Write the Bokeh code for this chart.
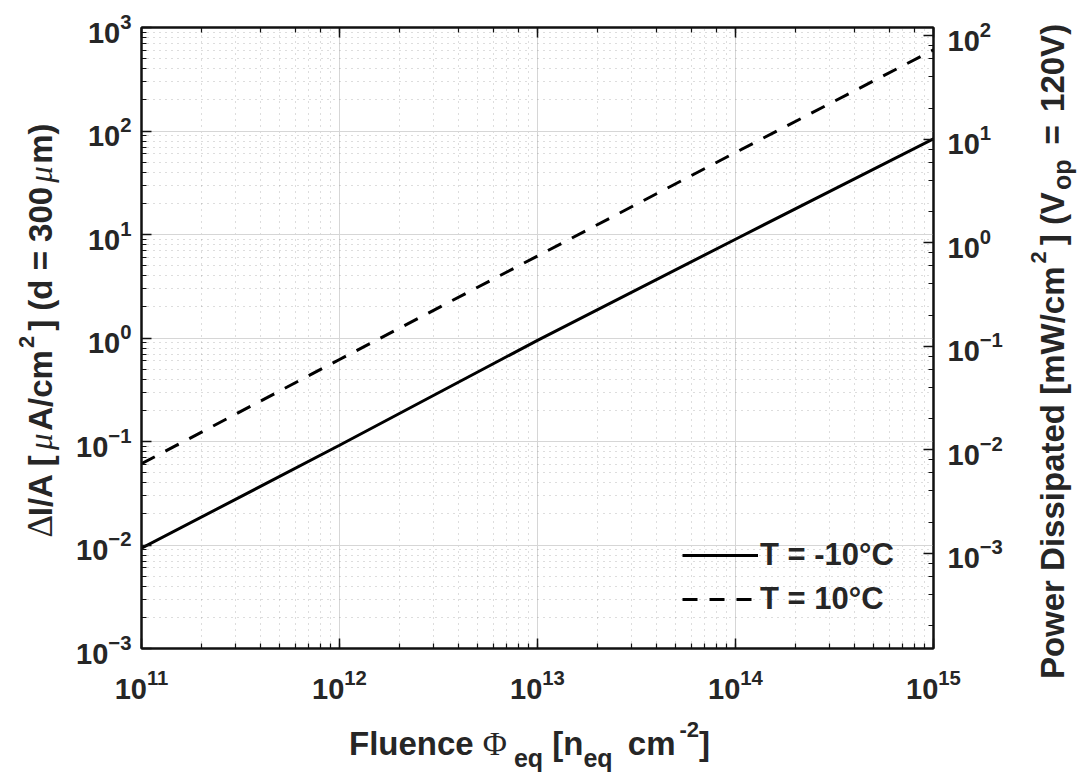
import math
from bokeh.plotting import figure
from bokeh.models import LogAxis, Range1d, LogScale, Label, Legend, LegendItem, GridBox
from bokeh.embed import file_html
from bokeh.resources import INLINE

# ---------------- data ----------------
fluence = [1e11, 1e12, 1e13, 1e14, 1e15]            # n_eq cm^-2
current_minus10 = [0.0093, 0.092, 0.95, 9.0, 84.0]   # uA/cm^2, T = -10 C
current_plus10 = [0.061, 0.62, 6.2, 62.0, 608.0]     # uA/cm^2, T = 10 C
series_labels = ["T = -10°C", "T = 10°C"]
x_limits = [1e11, 1e15]
y_limits = [1e-3, 1e3]
v_op = 120.0                                          # V
power_limits = [y_limits[0] * v_op / 1000.0, y_limits[1] * v_op / 1000.0]  # mW/cm^2

# ---------------- layout constants ----------------
W, H = 1077, 772
FL, FT, FW, FH = 141, 27, 792, 621
FB = FT + FH
TXT = "#262626"
SANS = "Liberation Sans"
SERIF = "Liberation Serif"

p = figure(x_axis_type="log", y_axis_type="log",
           x_range=Range1d(*x_limits), y_range=Range1d(*y_limits),
           frame_width=FW, frame_height=FH,
           min_border_left=FL, min_border_right=W - FL - FW,
           min_border_top=FT, min_border_bottom=H - FB,
           output_backend="svg", toolbar_location=None,
           background_fill_color="white", border_fill_color="white")
p.outline_line_color = "#111111"
p.outline_line_width = 2
p.frame_align = False

p.extra_y_ranges = {"power": Range1d(*power_limits)}
p.extra_y_scales = {"power": LogScale()}


def style_axis(ax, show_labels=True, standoff=12):
    ax.axis_line_color = "#111111"
    ax.axis_line_width = 2
    ax.major_tick_in = 10
    ax.major_tick_out = 0
    ax.minor_tick_in = 5
    ax.minor_tick_out = 0
    ax.major_tick_line_color = "#111111"
    ax.minor_tick_line_color = "#111111"
    ax.major_tick_line_width = 1.5
    ax.minor_tick_line_width = 1.2
    ax.major_label_standoff = standoff
    ax.major_label_text_font = SANS
    ax.major_label_text_font_style = "bold"
    ax.major_label_text_color = TXT
    if show_labels:
        ax.major_label_text_font_size = "29px"
    else:
        ax.major_label_text_font_size = "2px"
        ax.major_label_text_alpha = 0
        ax.major_label_standoff = 0


style_axis(p.xaxis[0], standoff=20)
style_axis(p.yaxis[0], standoff=10)

top_axis = LogAxis()
style_axis(top_axis, show_labels=False)
p.add_layout(top_axis, "above")

right_axis = LogAxis(y_range_name="power")
style_axis(right_axis, standoff=14)
p.add_layout(right_axis, "right")

# grid
for g in (p.xgrid[0], p.ygrid[0]):
    g.grid_line_color = "#d6d6d6"
    g.grid_line_width = 1
    g.minor_grid_line_color = "#8c8c8c"
    g.minor_grid_line_alpha = 0.6
    g.minor_grid_line_dash = "1 5"
    g.minor_grid_line_width = 1

# lines
r_solid = p.line(fluence, current_minus10, line_color="black", line_width=3)
r_dash = p.line(fluence, current_plus10, line_color="black", line_width=3, line_dash="15 12")

legend = Legend(items=[LegendItem(label=series_labels[0], renderers=[r_solid]),
                       LegendItem(label=series_labels[1], renderers=[r_dash])],
                location=(541, 31), orientation="vertical",
                background_fill_alpha=0, border_line_alpha=0,
                padding=0, margin=0, spacing=8,
                glyph_width=76, glyph_height=34, label_height=34,
                label_standoff=2,
                label_text_font=SANS, label_text_font_style="bold",
                label_text_font_size="31px", label_text_color=TXT)
p.add_layout(legend, "center")

# ---------------- rich-text axis titles: transparent overlay figure in pixel units ----------------
ov = figure(frame_width=W, frame_height=H, title=None,
            x_range=Range1d(0, W), y_range=Range1d(0, H),
            x_axis_location=None, y_axis_location=None,
            min_border=0, min_border_left=0, min_border_right=0,
            min_border_top=0, min_border_bottom=0,
            output_backend="svg", toolbar_location=None,
            background_fill_color=None, border_fill_color=None,
            outline_line_color=None)
ov.grid.visible = False
ov.frame_align = False

# advance widths (em) of Liberation Sans Bold / Liberation Serif glyphs used below
_SANS_BOLD_EM = {
    " ": .278, "(": .333, ")": .333, "-": .333, "/": .278, "=": .584, "[": .333, "]": .333,
    "0": .556, "1": .556, "2": .556, "3": .556,
    "A": .722, "D": .722, "F": .611, "I": .278, "P": .667, "V": .667, "W": .944,
    "a": .556, "c": .556, "d": .611, "e": .556, "i": .278, "l": .278, "m": .889,
    "n": .611, "o": .611, "p": .611, "q": .611, "r": .389, "s": .556, "t": .333,
    "u": .611, "w": .778,
}
_SERIF_EM = {"Φ": .76, "Δ": .61, "μ": .58}


def text_width(text, family, style, size):
    table = _SERIF_EM if family == SERIF else _SANS_BOLD_EM
    return sum(table.get(ch, 0.6) for ch in text) * size


def put(text, cx, cy, size, family=SANS, style="bold", angle=0.0):
    ov.add_layout(Label(x=cx, y=H - cy, text=text, angle=angle,
                        text_font=family, text_font_style=style,
                        text_font_size=f"{size}px", text_color=TXT,
                        text_align="left", text_baseline="alphabetic"))


def rich(pieces, center, baseline, vertical=False):
    # pieces: (text, family, style, size, shift, extra_gap_after)
    widths = [text_width(t, fam, st, sz) + gap for (t, fam, st, sz, sh, gap) in pieces]
    total = sum(widths)
    pos = center + total / 2.0 if vertical else center - total / 2.0
    for (t, fam, st, sz, sh, gap), w in zip(pieces, widths):
        # leading blanks are collapsed by SVG text: turn them into an offset instead
        body = t.lstrip(" ")
        lead = text_width(t[:len(t) - len(body)], fam, st, sz)
        if vertical:
            put(body, baseline - sh, pos - lead, sz, fam, st, angle=math.pi / 2)
            pos -= w
        else:
            put(body, pos + lead, baseline - sh, sz, fam, st)
            pos += w


LS, SUB, SUP = 33, 25, 22
x_title = [
    ("Fluence ", SANS, "bold", LS, 0, 0),
    ("Φ", SERIF, "normal", LS, 0, 6),
    ("eq", SANS, "bold", SUB, -14, 0),
    (" [n", SANS, "bold", LS, 0, 0),
    ("eq", SANS, "bold", SUB, -14, 6),
    (" cm", SANS, "bold", LS, 0, 4),
    ("-2", SANS, "bold", SUP, 14, 0),
    ("]", SANS, "bold", LS, 0, 0),
]
rich(x_title, center=529, baseline=743)

left_title = [
    ("Δ", SERIF, "normal", LS + 2, 0, 0),
    ("I/A [", SANS, "bold", LS, 0, 4),
    ("μ", SERIF, "italic", LS, 0, 0),
    ("A/cm", SANS, "bold", LS, 0, 2),
    ("2", SANS, "bold", SUP, 14, 5),
    ("] (d", SANS, "bold", LS, 0, 0),
    (" = ", SANS, "bold", LS, 0, 0),
    ("300", SANS, "bold", LS, 0, 4),
    ("μ", SERIF, "italic", LS, 0, 0),
    ("m)", SANS, "bold", LS, 0, 0),
]
rich(left_title, center=330, baseline=40, vertical=True)

right_title = [
    ("Power Dissipated [mW/cm", SANS, "bold", LS, 0, 3),
    ("2", SANS, "bold", SUP, 14, 6),
    ("] (V", SANS, "bold", LS, 0, 2),
    ("op", SANS, "bold", SUB, -9, 6),
    (" =", SANS, "bold", LS, 0, 4),
    (" 120V)", SANS, "bold", LS, 0, 0),
]
rich(right_title, center=351, baseline=1052, vertical=True)

# both figures share the same grid cell, the transparent one on top
page = GridBox(children=[(p, 0, 0), (ov, 0, 0)])
open("out.html", "w").write(file_html(page, INLINE))
